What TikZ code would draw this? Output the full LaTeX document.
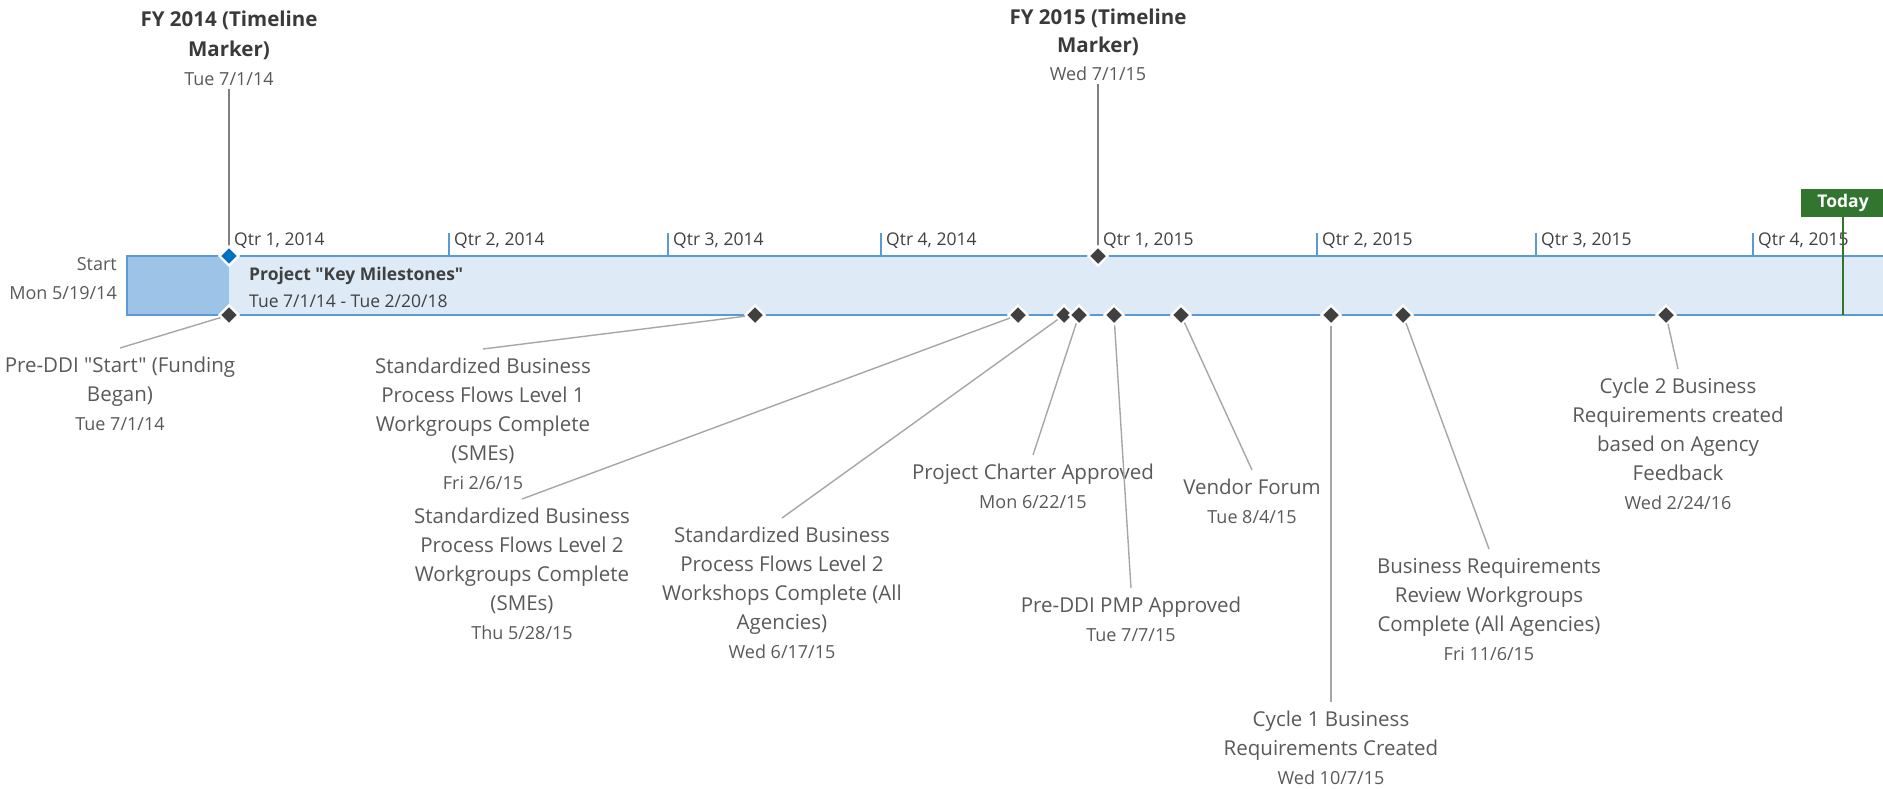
\documentclass[tikz,border=0pt]{standalone}
\usepackage{fontspec}
\setmainfont{Open Sans}[Ligatures=TeXOff]
\usetikzlibrary{shapes.geometric}

\definecolor{barfill}{HTML}{DEEBF7}
\definecolor{barstart}{HTML}{9DC3E6}
\definecolor{barline}{HTML}{5B9BD5}
\definecolor{fyblue}{HTML}{0070C0}
\definecolor{msgray}{HTML}{404040}
\definecolor{txtgray}{HTML}{595959}
\definecolor{headgray}{HTML}{3A3A3A}
\definecolor{conngray}{HTML}{A6A6A6}
\definecolor{markgray}{HTML}{7F7F7F}
\definecolor{todaygreen}{HTML}{31752F}

% smaller face used for the date lines
\newcommand\mdate[1]{{\fontsize{18}{29}\selectfont #1}}

\tikzset{
  milestone/.style={diamond, fill=msgray, draw=white, line width=2.2pt,
    inner sep=0pt, minimum width=20pt, minimum height=20pt},
  fymilestone/.style={milestone, fill=fyblue},
  lbl/.style={font=\fontsize{20.5}{29}\selectfont, text=txtgray, align=center,
    anchor=north, inner sep=0pt, outer sep=4pt},
  fytitle/.style={font=\fontsize{20.5}{29.5}\selectfont\bfseries, text=headgray,
    align=center, anchor=north, inner sep=0pt, outer sep=3pt},
  conn/.style={draw=conngray, line width=1.4pt},
  markerline/.style={draw=markgray, line width=1.4pt},
  qtrtick/.style={draw=barline, line width=1.5pt},
  qtrlbl/.style={font=\fontsize{17.5}{20}\selectfont, text=msgray, anchor=base west,
    inner sep=0pt},
  todaybox/.style={fill=todaygreen, text=white, font=\fontsize{17.5}{20}\selectfont\bfseries,
    minimum width=84pt, minimum height=28pt, inner sep=0pt},
}

\begin{document}
\begin{tikzpicture}[x=1pt, y=-1pt]
\useasboundingbox (0,0) rectangle (1883,788);

% task bar
\fill[barfill] (127,256) rectangle (1895,315);
\fill[barstart] (127,256) rectangle (229,315);

% quarter scale
\foreach \qx/\qt in {229/{Qtr 1, 2014}, 449/{Qtr 2, 2014}, 668/{Qtr 3, 2014},
    881/{Qtr 4, 2014}, 1098/{Qtr 1, 2015}, 1317/{Qtr 2, 2015},
    1536/{Qtr 3, 2015}, 1753/{Qtr 4, 2015}} {
  \draw[qtrtick] (\qx,233) -- (\qx,256);
  \node[qtrlbl] at (\qx+5,245) {\qt};
}

\draw[barline, line width=2pt] (1895,256) -- (127,256) -- (127,315) -- (1895,315);

% start and summary text
\node[font=\fontsize{18}{29}\selectfont, text=txtgray, align=right, anchor=north east,
  inner sep=0pt] (start) at (117,252) {\rule{0pt}{18pt}Start\\Mon 5/19/14};
\node[font=\fontsize{17.5}{27}\selectfont, text=msgray, align=left, anchor=north west,
  inner sep=0pt] (proj) at (249,263)
  {\rule{0pt}{17pt}\textbf{Project "Key Milestones"}\\Tue 7/1/14 - Tue 2/20/18};

% today marker
\coordinate (todayfoot) at (1843,315);
\node[todaybox] (today) at (1843,203) {Today};
\draw[draw=todaygreen, line width=2pt] (today) -- (todayfoot);

% fiscal year markers
\node[fymilestone] (fy14d) at (229,256) {};
\node[fytitle] (fy14) at (229,3.5)
  {\rule{0pt}{20pt}FY 2014 (Timeline\\Marker)\\\mdate{\mdseries\color{txtgray}Tue 7/1/14}};
\draw[markerline] (fy14) -- (fy14d);

\node[milestone] (fy15d) at (1098,256) {};
\node[fytitle, font=\fontsize{20.5}{28}\selectfont\bfseries] (fy15) at (1098,1.5)
  {\rule{0pt}{20pt}FY 2015 (Timeline\\Marker)\\\mdate{\mdseries\color{txtgray}Wed 7/1/15}};
\draw[markerline] (fy15) -- (fy15d);

% milestones on the lower edge
\node[milestone] (m1) at (229,315) {};
\node[milestone] (m2) at (755,315) {};
\node[milestone] (m3) at (1018,315) {};
\node[milestone] (m4) at (1064,315) {};
\node[milestone] (m5) at (1079,315) {};
\node[milestone] (m6) at (1114,315) {};
\node[milestone] (m7) at (1181,315) {};
\node[milestone] (m8) at (1331,315) {};
\node[milestone] (m9) at (1403,315) {};
\node[milestone] (m10) at (1666,315) {};

% milestone labels
\node[lbl] (l1) at (120,348)
  {\rule{0pt}{20pt}Pre-DDI "Start" (Funding\\Began)\\\mdate{Tue 7/1/14}};
\node[lbl] (l2) at (483,349)
  {\rule{0pt}{20pt}Standardized Business\\Process Flows Level 1\\Workgroups Complete\\(SMEs)\\\mdate{Fri 2/6/15}};
\node[lbl] (l3) at (522,499)
  {\rule{0pt}{20pt}Standardized Business\\Process Flows Level 2\\Workgroups Complete\\(SMEs)\\\mdate{Thu 5/28/15}};
\node[lbl] (l4) at (782,518)
  {\rule{0pt}{20pt}Standardized Business\\Process Flows Level 2\\Workshops Complete (All\\Agencies)\\\mdate{Wed 6/17/15}};
\node[lbl] (l5) at (1033,455)
  {\rule{0pt}{20pt}Project Charter Approved\\\mdate{Mon 6/22/15}};
\node[lbl] (l6) at (1131,588)
  {\rule{0pt}{20pt}Pre-DDI PMP Approved\\\mdate{Tue 7/7/15}};
\node[lbl] (l7) at (1252,470)
  {\rule{0pt}{20pt}Vendor Forum\\\mdate{Tue 8/4/15}};
\node[lbl] (l8) at (1331,702)
  {\rule{0pt}{20pt}Cycle 1 Business\\Requirements Created\\\mdate{Wed 10/7/15}};
\node[lbl] (l9) at (1489,549)
  {\rule{0pt}{20pt}Business Requirements\\Review Workgroups\\Complete (All Agencies)\\\mdate{Fri 11/6/15}};
\node[lbl] (l10) at (1678,369)
  {\rule{0pt}{20pt}Cycle 2 Business\\Requirements created\\based on Agency\\Feedback\\\mdate{Wed 2/24/16}};

% leader lines
\foreach \i in {1,...,10} {
  \draw[conn] (m\i) -- (l\i.north);
}
\end{tikzpicture}
\end{document}
